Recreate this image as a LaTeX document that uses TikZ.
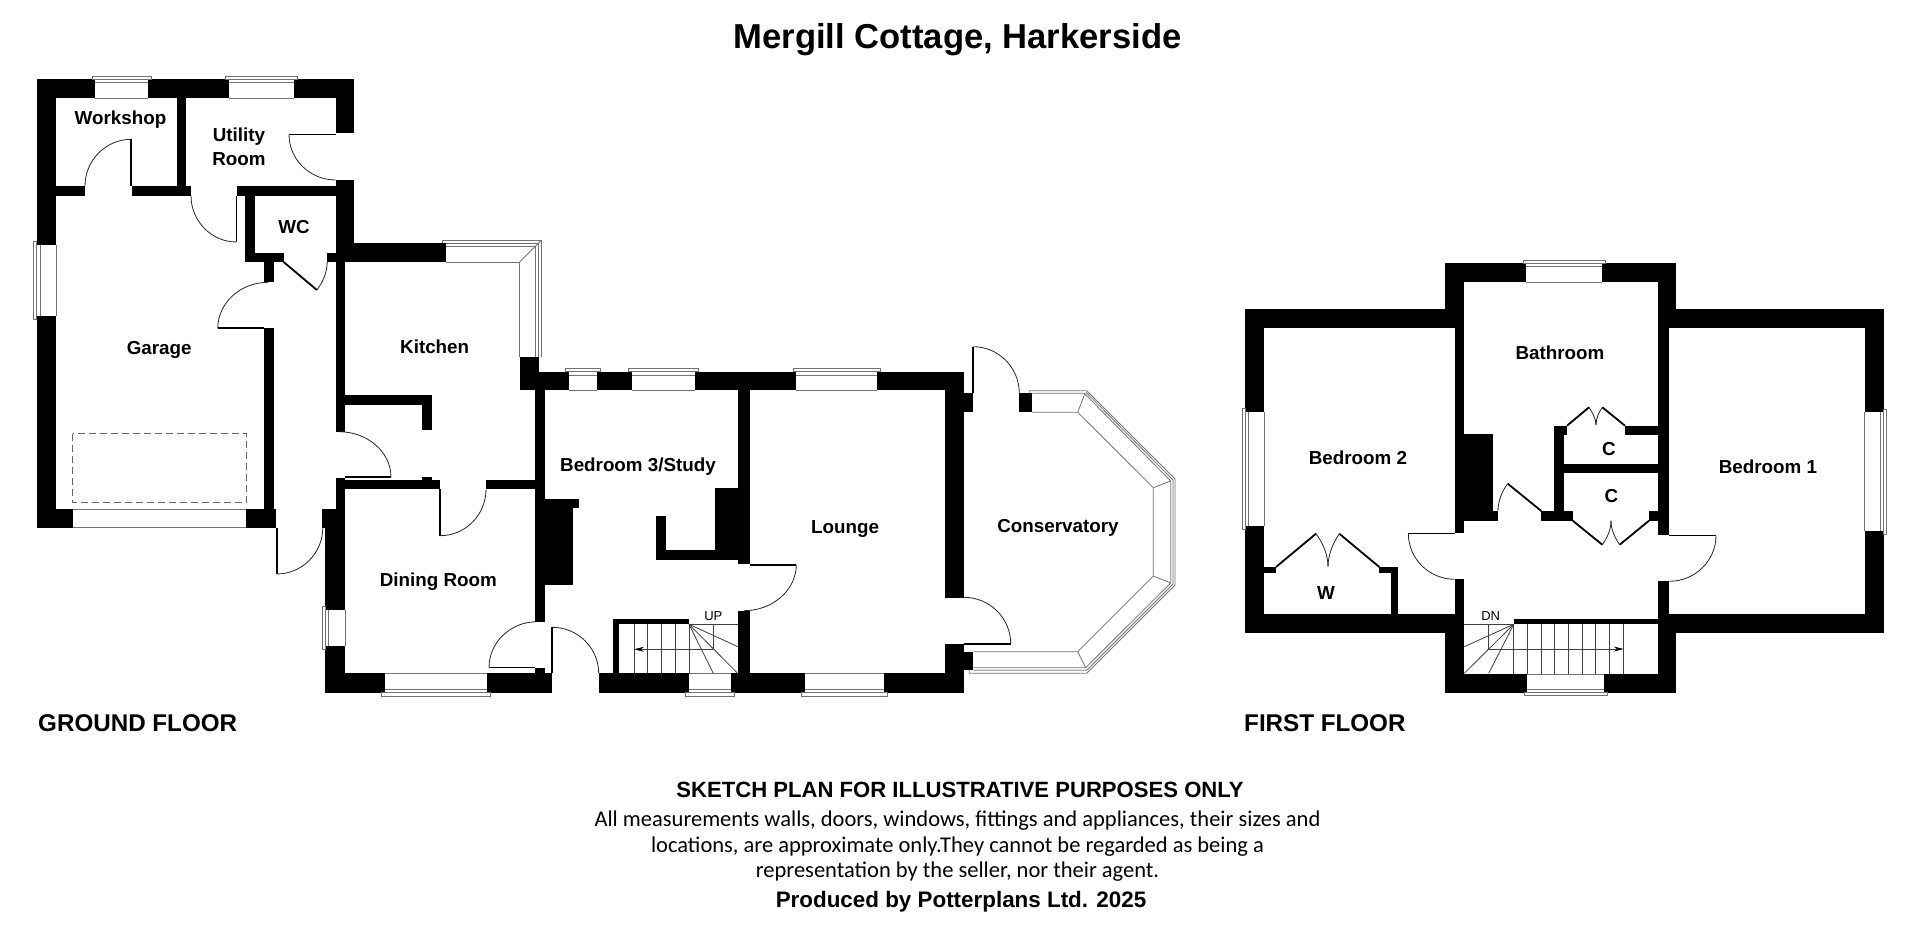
\documentclass[tikz,border=0pt]{standalone}
\usepackage{fontspec}
\setmainfont{Liberation Sans}
\newfontfamily\noteface{Carlito}
\usetikzlibrary{arrows.meta}
\newcommand{\wl}[4]{\fill[wallfill] (#1,#2) rectangle (#3,#4);}
% horizontal window: x1 x2 yin yout ysill
\newcommand{\winh}[5]{%
  \fill[white] (#1,#3) rectangle (#2,#4);
  \draw[glass] (#1,#3) -- (#2,#3);
  \draw[glass] (#1,#4) -- (#2,#4);
  \draw[glass] (#1,{#4+(#4-#5)}) -- (#2,{#4+(#4-#5)});
  \draw[glass,fill=white] ({#1-3.3},#4) rectangle ({#2+3.3},#5);}
% vertical window: y1 y2 xin xout xsill
\newcommand{\winv}[5]{%
  \fill[white] (#3,#1) rectangle (#4,#2);
  \draw[glass] (#3,#1) -- (#3,#2);
  \draw[glass] (#4,#1) -- (#4,#2);
  \draw[glass] ({#4+(#4-#5)},#1) -- ({#4+(#4-#5)},#2);
  \draw[glass,fill=white] (#4,{#1-3.3}) rectangle (#5,{#2+3.3});}
% swing: leaves (x1,y1) vertically, arrives at (x2,y2) horizontally
\newcommand{\qa}[4]{\draw[swing] (#1,#2) .. controls (#1,{#2+0.55*(#4-#2)}) and ({#3-0.55*(#3-#1)},#4) .. (#3,#4);}
\tikzset{
  wallfill/.style={fill=black},
  glass/.style={draw=black!55,line width=0.8pt},
  swing/.style={draw=black!85,line width=0.8pt},
  leaf/.style={draw=black,line width=1.8pt},
  tread/.style={draw=black!75,line width=0.8pt},
  headtip/.style={-{Stealth[length=10pt,width=5pt,color=black]}},
  room/.style={font=\fontsize{18.8}{23}\selectfont\bfseries,align=center,inner sep=0pt,text=black},
  plate/.style={font=\fontsize{24.2}{28}\selectfont\bfseries,inner sep=0pt,anchor=west},
  note/.style={font=\noteface\fontsize{22.5}{26}\selectfont,inner sep=0pt},
}
\begin{document}
\begin{tikzpicture}[x=1pt,y=-1pt]
\useasboundingbox (0,0) rectangle (1920,933);
\fill[white] (0,0) rectangle (1920,933);
% ===== ground floor walls =====
\wl{36.7}{79.3}{354}{98.3}
\wl{36.7}{79.3}{55.9}{527.7}
\wl{335.6}{79.3}{354}{133.3}
\wl{176.8}{98.3}{186.4}{186}
\wl{55.9}{186}{85}{195.7}
\wl{131.6}{186}{191}{195.7}
\wl{237.3}{186}{335.6}{195.7}
\wl{335.6}{180}{354}{262}
\wl{335.6}{243.3}{446.2}{262}
\wl{245}{186}{254.9}{262}
\wl{245}{252.7}{283.6}{262}
\wl{327.2}{252.7}{335.6}{262}
\wl{264}{262}{273.6}{282.3}
\wl{264}{328.3}{273.6}{509}
\wl{36.7}{509}{73.1}{527.7}
\wl{246}{509}{276.3}{527.7}
\wl{335.6}{262}{345.2}{431.7}
\wl{345.2}{395.3}{432}{404.7}
\wl{422}{404.7}{432}{430.3}
\wl{519.7}{356.7}{538.8}{390.3}
\wl{519.7}{371.7}{964}{390.3}
\wl{535.3}{390.3}{544.7}{621.7}
\wl{335.6}{478.3}{345.2}{527.7}
\wl{335.6}{480}{440}{489.3}
\wl{422}{477}{432}{480}
\wl{486}{480}{535.3}{489.3}
\wl{322.2}{509}{335.6}{527.7}
\wl{325.3}{527.7}{345.2}{692.7}
\wl{325.3}{673.3}{552.2}{692.7}
\wl{535}{668.3}{544.6}{673.3}
\wl{598.7}{673.3}{964}{692.7}
\wl{544.7}{498.7}{579.3}{508.3}
\wl{544.7}{508.3}{573}{585.3}
\wl{738}{390.3}{750}{564}
\wl{715}{488.3}{738}{550}
\wl{656.3}{515.7}{666}{559.7}
\wl{656.3}{550}{738}{559.7}
\wl{738}{610.7}{750}{673.3}
\wl{945.3}{371.7}{964}{597.7}
\wl{945.3}{644}{964}{692.7}
\wl{964}{393.3}{972.7}{412.3}
\wl{964}{652.3}{973.3}{670}
\wl{1019.3}{393.3}{1032.3}{412.3}
% stair wall ground
\wl{613.3}{619.3}{688.7}{624.3}
\wl{613.3}{619.3}{618.7}{673.3}
% ===== ground floor windows =====
\winh{95.3}{148.1}{98.3}{79.3}{76}
\winh{228.9}{293.9}{98.3}{79.3}{76}
\winv{245}{316}{55.9}{36.7}{33.3}
\fill[white] (73.1,509) rectangle (246,527.7);
\draw[glass] (73.1,509) -- (246,509);
\draw[glass] (73.1,527.7) -- (246,527.7);
\winh{568.7}{597.3}{390.3}{371.7}{368.3}
\winh{632}{694.7}{390.3}{371.7}{368.3}
\winh{796.3}{877.3}{390.3}{371.7}{368.3}
\winv{610}{646}{345.2}{325.3}{322.2}
\winh{384.6}{486.8}{673.3}{692.7}{696}
\winh{688.7}{730.7}{673.3}{692.7}{696}
\winh{805}{883.7}{673.3}{692.7}{696}
% kitchen corner window
\fill[white] (446.2,243.3) -- (538.5,243.3) -- (538.5,356.7) -- (519.7,356.7) -- (519.7,262) -- (446.2,262) -- cycle;
\draw[glass] (446.2,262) -- (519.7,262) -- (519.7,356.7);
\draw[glass] (442.8,243.3) -- (442.8,240.3) -- (541.5,240.3) -- (541.5,356.7);
\draw[glass] (446.2,243.3) -- (538.5,243.3) -- (538.5,356.7);
\draw[glass] (446.2,246.6) -- (535.5,246.6) -- (535.5,356.7);
\draw[glass] (519.7,262) -- (541.5,240.3);
% conservatory glazing
\draw[glass] (1032.3,412.3) -- (1077.7,412.3) -- (1153.3,487.7) -- (1153.3,576) -- (1077.7,651.7) -- (973.3,651.7);
\draw[glass] (1032.3,393.3) -- (1084.3,393.3) -- (1170.7,481) -- (1170.7,583) -- (1085.7,667.7) -- (973.3,667.7);
\draw[glass] (1086,392.3) -- (1173,480) -- (1173,584) -- (1086.7,670.3) -- (973.3,670.3);
\draw[glass] (1029.3,393.3) -- (1029.3,390.7) -- (1086.7,390.7) -- (1175,479) -- (1175,585) -- (1086.7,673.3) -- (969.3,673.3) -- (969.3,670);
\draw[glass] (1077.7,412.3) -- (1085,393.3);
\draw[glass] (1153.3,487.7) -- (1170.7,481);
\draw[glass] (1153.3,576) -- (1170.7,583);
\draw[glass] (1077.7,651.7) -- (1085.7,667.7);
% ===== ground floor doors =====
\draw[leaf] (131.3,186) -- (131.3,139.3);
\qa{85}{186}{131.3}{139.3}
\draw[leaf] (289,134.5) -- (335.6,134.5);
\qa{289}{134.5}{335.6}{180}
\draw[leaf] (236.5,195.7) -- (236.5,242);
\qa{191}{195.7}{236.5}{242}
\draw[leaf] (283.6,262) -- (316.9,290);
\draw[swing] (327.2,262) .. controls (327.2,272) and (323,282) .. (316.9,290);
\draw[leaf] (217.8,328.3) -- (264,328.3);
\qa{217.8}{328.3}{268}{282.3}
\draw[leaf] (276.8,527.7) -- (276.8,574);
\qa{322.8}{527.7}{276.8}{574}
\draw[leaf] (345.2,477) -- (391,477);
\qa{391}{477}{339}{431.7}
\draw[leaf] (440.3,489.3) -- (440.3,535.7);
\qa{486}{489.3}{440.3}{535.7}
\draw[leaf] (489,667.5) -- (535,667.5);
\qa{489}{667.5}{537}{621.7}
\draw[leaf] (552.2,673.3) -- (552.2,627.3);
\qa{598.7}{673.3}{552.2}{627.3}
\draw[leaf] (750,564.7) -- (796.3,564.7);
\qa{796.3}{564.7}{744}{610.7}
\draw[leaf] (973.3,393.3) -- (973.3,346.7);
\qa{1019.3}{393.3}{973.3}{346.7}
\draw[leaf] (964,643.7) -- (1010.7,643.7);
\qa{1010.7}{643.7}{964}{597.3}
% ground stairs
\foreach \sx in {634,647.7,661.7,675.3,689}{\draw[tread] (\sx,624.3) -- (\sx,673.3);}
\draw[tread] (689,624.3) -- (738,624.3);
\draw[tread] (713.3,624.3) -- (713.3,649.3);
\draw[tread,headtip] (713.3,649.3) -- (634,649.3);
\draw[tread] (689,624.3) -- (738,646.7);
\draw[tread] (689,624.3) -- (737,672.7);
\draw[tread] (689,624.3) -- (713.3,673.3);
% garage door dashed outline
\draw[black!60,line width=0.8pt,dash pattern=on 7pt off 4pt] (72.7,433.7) rectangle (246.5,502.3);
% ===== first floor walls =====
\wl{1245.3}{309}{1464.3}{328.3}
\wl{1245.3}{309}{1264.3}{633.3}
\wl{1245.3}{614}{1464.3}{633.3}
\wl{1445}{263.3}{1676.3}{282.3}
\wl{1445}{263.3}{1464.3}{328.3}
\wl{1454.7}{328.3}{1464.3}{533.3}
\wl{1454.7}{579.3}{1464.3}{614}
\wl{1445}{614}{1464.3}{692.7}
\wl{1445}{674}{1676.3}{692.7}
\wl{1657.7}{263.3}{1676.3}{328.3}
\wl{1657.7}{309}{1883.7}{328.3}
\wl{1657.7}{328.3}{1669.3}{535.3}
\wl{1657.7}{581.3}{1669.3}{633.3}
\wl{1657.7}{614}{1883.7}{633.3}
\wl{1657.7}{633.3}{1676.3}{692.7}
\wl{1864.7}{309}{1883.7}{633.3}
\wl{1464.3}{434}{1492.7}{520.7}
\wl{1464.3}{511}{1498}{520.7}
\wl{1541}{511}{1572.7}{520.7}
\wl{1554.3}{425.7}{1564}{511}
\wl{1554.3}{425.7}{1567}{435}
\wl{1564}{463.7}{1657.7}{473.3}
\wl{1625}{425.7}{1657.7}{435}
\wl{1649}{511}{1657.7}{520.7}
\wl{1264.3}{567}{1276}{573.3}
\wl{1379.3}{567}{1397.7}{573.3}
\wl{1391.3}{567}{1397.7}{614}
\wl{1513.7}{619}{1657.7}{624.3}
% ===== first floor windows =====
\winh{1526.3}{1602.3}{282.3}{263.3}{260.3}
\winv{411.7}{525.7}{1264.3}{1245.3}{1242.3}
\winv{412.3}{530.7}{1864.7}{1883.7}{1886.7}
\winh{1527.3}{1604.3}{674}{692.7}{695.7}
% ===== first floor doors =====
\draw[leaf] (1408.3,533.5) -- (1454.7,533.5);
\qa{1408.3}{533.5}{1454.7}{579.3}
\draw[leaf] (1541.3,511) -- (1507.7,483.7);
\draw[swing] (1498,511) .. controls (1498,501) and (1502,491) .. (1507.7,483.7);
\draw[leaf] (1669.3,535.5) -- (1716,535.5);
\qa{1716}{535.5}{1669.3}{581.3}
\draw[leaf] (1567,425.7) -- (1589,407.3);
\draw[leaf] (1625,425.7) -- (1602.3,407.3);
\draw[swing] (1589,407.3) .. controls (1592,412) and (1596,418) .. (1596,425);
\draw[swing] (1602.3,407.3) .. controls (1599,412) and (1596,418) .. (1596,425);
\draw[leaf] (1572.7,520.7) -- (1602.3,544.7);
\draw[leaf] (1649,520.7) -- (1619.7,544.7);
\draw[swing] (1602.3,544.7) .. controls (1607,538) and (1611,530) .. (1611,520.7);
\draw[swing] (1619.7,544.7) .. controls (1615,538) and (1611,530) .. (1611,520.7);
\draw[leaf] (1276,567) -- (1316,533.7);
\draw[leaf] (1379.3,567) -- (1339.3,533.7);
\draw[swing] (1316,533.7) .. controls (1323,543) and (1328,555) .. (1328,566.7);
\draw[swing] (1339.3,533.7) .. controls (1333,543) and (1328,555) .. (1328,566.7);
% first floor stairs
\foreach \sx in {1513.7,1527.3,1541,1554.7,1568.3,1582,1595.7,1609.7,1623.7}{\draw[tread] (\sx,624.3) -- (\sx,674);}
\draw[tread] (1464.3,624.3) -- (1513.7,624.3);
\draw[tread] (1488.7,624.3) -- (1488.7,649);
\draw[tread,headtip] (1488.7,649) -- (1623.7,649);
\draw[tread] (1513.7,624.3) -- (1464.3,646.7);
\draw[tread] (1513.7,624.3) -- (1464.3,673.3);
\draw[tread] (1513.7,624.3) -- (1488.7,673.3);
% ===== labels =====
\node[room] (workshop) at (120.5,120) {Workshop};
\node[room] (utility) at (239,147) {Utility\\[1pt]Room};
\node[room] (wc) at (294,227.5) {WC};
\node[room] (garage) at (159.2,350) {Garage};
\node[room] (kitchen) at (434.7,346.5) {Kitchen};
\node[room] (bed3) at (638,467) {Bedroom 3/Study};
\node[room] (dining) at (438.4,581.5) {Dining Room};
\node[room] (lounge) at (845,529) {Lounge};
\node[room] (conserv) at (1058,527.5) {Conservatory};
\node[room] (bed2) at (1358,458) {Bedroom 2};
\node[room] (bath) at (1560,353) {Bathroom};
\node[room] (bed1) at (1768,466.7) {Bedroom 1};
\node[room] (cA) at (1609,449.4) {C};
\node[room] (cB) at (1611.5,496) {C};
\node[room] (w) at (1326,592.7) {W};
\node[inner sep=0pt,font=\fontsize{13}{15}\selectfont] (up) at (713.3,616) {UP};
\node[inner sep=0pt,font=\fontsize{13}{15}\selectfont] (dn) at (1490.7,616) {DN};
\node[inner sep=0pt,font=\fontsize{34.6}{40}\selectfont\bfseries] (title) at (957.6,40) {Mergill Cottage, Harkerside};
\node[plate] (gf) at (38,723.5) {GROUND FLOOR};
\node[plate] (ff) at (1244,723.5) {FIRST FLOOR};
\node[inner sep=0pt,font=\fontsize{22.1}{26}\selectfont\bfseries] (sketch) at (960,790) {SKETCH PLAN FOR ILLUSTRATIVE PURPOSES ONLY};
\node[note] (n1) at (957.5,820.5) {All measurements walls, doors, windows, fittings and appliances, their sizes and};
\node[note] (n2) at (957.5,846.5) {locations, are approximate only.They cannot be regarded as being a};
\node[note] (n3) at (957.5,871.5) {representation by the seller, nor their agent.};
\node[inner sep=0pt,font=\fontsize{22.4}{26}\selectfont\bfseries] (prod) at (961,902) {Produced by Potterplans Ltd. 2025};
\end{tikzpicture}
\end{document}
